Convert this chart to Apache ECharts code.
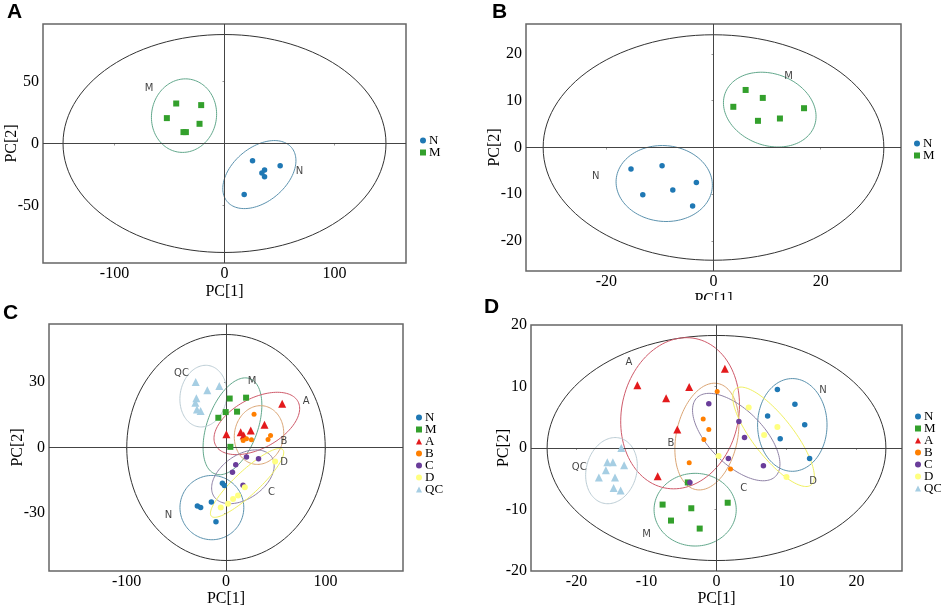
<!DOCTYPE html>
<html>
<head>
<meta charset="utf-8">
<script src="https://cdn.jsdelivr.net/npm/echarts@6/dist/echarts.min.js"></script>
<style>
html,body{margin:0;padding:0;background:#fff;}
#chart{width:941px;height:608px;}
</style>
</head>
<body>
<div id="chart"></div>
<script>
// ---- data ----
const groups = ['N', 'M', 'A', 'B', 'C', 'D', 'QC'];

// panel A
const aN = [[25.5,-14.0],[50.6,-17.9],[36.4,-21.5],[34.0,-23.9],[36.4,-26.9],[17.9,-41.1]];
const aM = [[-43.9,32.3],[-21.2,31.0],[-52.4,20.5],[-22.7,15.9],[-37.3,9.2],[-35.1,9.2]];
// panel B
const bN = [[-15.4,-4.6],[-9.6,-3.9],[-3.2,-7.5],[-13.2,-10.1],[-7.6,-9.1],[-3.9,-12.5]];
const bM = [[6.0,12.3],[9.2,10.6],[3.7,8.7],[16.9,8.4],[8.3,5.7],[12.4,6.2]];
// panel C
const cN = [[-3.6,-16.4],[-1.6,-17.4],[-14.7,-24.9],[-28.8,-26.8],[-25.5,-27.5],[-10.1,-34.0]];
const cM = [[3.7,22.4],[20.2,22.8],[-0.3,16.2],[11.1,16.4],[-7.7,13.6],[4.4,0.3]];
const cA = [[56.5,20.0],[38.7,10.4],[24.9,7.8],[14.8,7.0],[17.8,5.5],[0.4,6.1]];
const cB = [[28.2,15.2],[44.8,5.5],[42.3,3.7],[25.6,3.5],[20.6,4.0],[17.3,3.2]];
const cC = [[20.6,-4.3],[32.7,-5.1],[9.8,-7.9],[6.5,-11.3],[17.1,-17.3]];
const cD = [[49.4,-6.4],[18.9,-18.2],[12.1,-22.0],[7.1,-23.6],[2.0,-25.7],[-5.3,-27.5]];
const cQC = [[-30.5,30.0],[-18.8,26.2],[-6.7,28.1],[-29.8,22.5],[-30.8,20.5],[-29.2,17.4],[-25.5,16.7]];
// panel D
const dN = [[8.7,9.5],[11.2,7.1],[7.3,5.2],[12.6,3.8],[9.1,1.5],[13.3,-1.7]];
const dM = [[-4.1,-5.6],[-7.7,-9.2],[-3.6,-9.8],[1.6,-8.9],[-6.5,-11.8],[-2.4,-13.1]];
const dA = [[-11.3,10.2],[-7.2,8.1],[-3.9,9.9],[1.2,12.9],[-5.6,3.0],[-8.4,-4.6]];
const dB = [[0.1,9.2],[-1.9,4.7],[-1.1,3.0],[-1.8,1.4],[-3.9,-2.4],[2.0,-3.4]];
const dC = [[-1.1,7.2],[3.2,4.3],[4.0,1.7],[1.7,-1.7],[6.7,-2.9],[-3.8,-5.6]];
const dD = [[4.6,6.6],[8.7,3.4],[6.8,2.1],[0.3,-1.3],[10.0,-4.7]];
const dQC = [[-13.6,0.0],[-15.6,-2.3],[-14.8,-2.3],[-13.2,-2.8],[-15.8,-3.6],[-14.5,-4.8],[-16.8,-4.8],[-14.7,-6.5],[-13.7,-6.9]];

// ellipses: [cx, cy, rx, ry, rotation deg]
const hotA = [0,0,146.8,88,0];
const ellA = {N:[31.7,-25.1,38.2,21.8,40], M:[-36.8,22.5,29.5,29.8,-10]};
const hotB = [0,0,31.8,24.1,0];
const ellB = {N:[-9.2,-7.7,9.0,8.1,-5], M:[10.5,8.1,8.87,7.66,-20]};
const hotC = [0,0,99.8,51.7,0];
const ellC = {N:[-14.2,-27.5,32.1,14.7,0], M:[6.5,9.7,25.4,23.2,-20], A:[31.0,11.0,46.9,11.5,28],
  B:[33.2,5.7,24.7,13.5,-10], C:[17.0,-13.4,35.2,10.0,35], D:[21.2,-16.2,49.1,5.5,43], QC:[-22.7,23.5,23.4,14.2,-10]};
const hotD = [0,0,24.2,18.3,0];
const ellD = {N:[10.83,3.75,4.96,7.54,0], M:[-3.05,-10.03,5.87,5.91,0], A:[-5.2,5.65,8.36,12.4,-12],
  B:[-1.37,1.86,4.38,8.81,-12], C:[2.82,1.78,7.94,4.4,-45], D:[8.15,1.82,8.73,3.26,-52], QC:[-15.0,-3.68,3.6,5.46,-15]};

// cluster labels
const labA = [[-68.5,44.1,'M'],[68.2,-22.6,'N']];
const labB = [[14.0,15.1,'M'],[-22.0,-6.2,'N']];
const labC = [[-44.7,33.8,'QC'],[26.2,30.2,'M'],[80.6,21.0,'A'],[58.2,2.8,'B'],[58.5,-7.0,'D'],[45.8,-20.4,'C'],[-57.8,-31.2,'N']];
const labD = [[-12.5,13.9,'A'],[-6.5,0.8,'B'],[-19.6,-3.1,'QC'],[-10.0,-14.1,'M'],[3.9,-6.6,'C'],[13.8,-5.5,'D'],[15.2,9.3,'N']];

// tick values
const ticksAx = [-100,0,100], ticksAy = [-50,0,50];
const ticksBx = [-20,0,20], ticksBy = [-20,-10,0,10,20];
const ticksCx = [-100,0,100], ticksCy = [-30,0,30];
const ticksDx = [-20,-10,0,10,20], ticksDy = [-20,-10,0,10,20];

// ---- styling ----
const serif = '"Liberation Serif", "DejaVu Serif", serif';
const sans = '"DejaVu Sans", "Open Sans", sans-serif';
const pointColor = {N:'#1f78b4', M:'#33a02c', A:'#e31a1c', B:'#ff7f00', C:'#6a3d9a', D:'#ffff80', QC:'#a6cee3'};
const ellColor = {N:'#5b92ae', M:'#62a88c', A:'#cf5a6a', B:'#dba574', C:'#8f82a6', D:'#f0f060', QC:'#bccdd5'};
const symbol = {N:'circle', M:'rect', A:'triangle', B:'circle', C:'circle', D:'circle', QC:'triangle'};
const symSize = {N:5.5, M:6, A:8, B:5, C:5.5, D:6, QC:8};

var myChart = echarts.init(document.getElementById('chart'));

function renderEllipse(color) {
  return function (params, api) {
    var c = api.coord([api.value(0), api.value(1)]);
    var rx = api.size([api.value(2), 0])[0];
    var ry = api.size([0, api.value(3)])[1];
    var th = api.value(4) * Math.PI / 180;
    var pts = [];
    for (var i = 0; i <= 120; i++) {
      var t = i / 120 * 2 * Math.PI;
      var ux = rx * Math.cos(t), uy = ry * Math.sin(t);
      pts.push([c[0] + ux * Math.cos(th) - uy * Math.sin(th), c[1] - (ux * Math.sin(th) + uy * Math.cos(th))]);
    }
    return {type: 'polygon', shape: {points: pts}, style: {fill: 'transparent', stroke: color, lineWidth: 1}};
  };
}

function ellipseSeries(gi, e, color) {
  return {type: 'custom', xAxisIndex: gi, yAxisIndex: gi, data: [e], renderItem: renderEllipse(color), silent: true, z: 2};
}

function pointSeries(gi, g, data) {
  return {name: g, type: 'scatter', xAxisIndex: gi, yAxisIndex: gi, data: data,
    symbol: symbol[g], symbolSize: symSize[g], itemStyle: {color: pointColor[g], opacity: 1}, z: 5};
}

function labelSeries(gi, labs) {
  return {type: 'scatter', xAxisIndex: gi, yAxisIndex: gi, silent: true, symbolSize: 0, z: 4,
    data: labs.map(function (l) { return {value: [l[0], l[1]], name: l[2]}; }),
    label: {show: true, position: 'inside', formatter: '{b}', fontFamily: sans, fontSize: 10, color: '#111'},
    markLine: {silent: true, symbol: 'none', label: {show: false}, animation: false,
      lineStyle: {color: '#444', width: 1, type: 'solid'}, data: [{xAxis: 0}, {yAxis: 0}]}};
}

function xAx(gi, min, max, ticks, gap) {
  return {gridIndex: gi, type: 'value', min: min, max: max, name: 'PC[1]', nameLocation: 'middle', nameGap: gap,
    nameMoveOverlap: false,
    nameTextStyle: {fontFamily: serif, fontSize: 16, color: '#000'},
    axisLine: {show: false}, splitLine: {show: false},
    axisTick: {show: true, length: 2, lineStyle: {color: '#999'}, customValues: ticks},
    axisLabel: {customValues: ticks, fontFamily: serif, fontSize: 16, color: '#000', margin: 3}};
}
function yAx(gi, min, max, ticks, gap) {
  return {gridIndex: gi, type: 'value', min: min, max: max, name: 'PC[2]', nameLocation: 'middle', nameGap: gap,
    nameMoveOverlap: false,
    nameTextStyle: {fontFamily: serif, fontSize: 16, color: '#000'},
    axisLine: {show: false}, splitLine: {show: false},
    axisTick: {show: true, length: 2, lineStyle: {color: '#999'}, customValues: ticks},
    axisLabel: {customValues: ticks, fontFamily: serif, fontSize: 16, color: '#000', margin: 4}};
}

function legendAt(left, top, names) {
  return {left: left, top: top, orient: 'vertical', selectedMode: false, itemWidth: 6, itemHeight: 6, itemGap: -1,
    textStyle: {fontFamily: serif, fontSize: 13, lineHeight: 11, color: '#000', padding: [0, 0, 0, -2]},
    data: names.map(function (n) { return {name: n, icon: symbol[n]}; })};
}

var series = [];
// A
series.push(ellipseSeries(0, hotA, '#333'));
series.push(ellipseSeries(0, ellA.N, ellColor.N));
series.push(ellipseSeries(0, ellA.M, ellColor.M));
series.push(labelSeries(0, labA));
series.push(pointSeries(0, 'N', aN));
series.push(pointSeries(0, 'M', aM));
// B
series.push(ellipseSeries(1, hotB, '#333'));
series.push(ellipseSeries(1, ellB.N, ellColor.N));
series.push(ellipseSeries(1, ellB.M, ellColor.M));
series.push(labelSeries(1, labB));
series.push(pointSeries(1, 'N', bN));
series.push(pointSeries(1, 'M', bM));
// C
series.push(ellipseSeries(2, hotC, '#333'));
groups.forEach(function (g) { series.push(ellipseSeries(2, ellC[g], ellColor[g])); });
series.push(labelSeries(2, labC));
var cData = {N: cN, M: cM, A: cA, B: cB, C: cC, D: cD, QC: cQC};
groups.forEach(function (g) { series.push(pointSeries(2, g, cData[g])); });
// D
series.push(ellipseSeries(3, hotD, '#333'));
groups.forEach(function (g) { series.push(ellipseSeries(3, ellD[g], ellColor[g])); });
series.push(labelSeries(3, labD));
var dData = {N: dN, M: dM, A: dA, B: dB, C: dC, D: dD, QC: dQC};
groups.forEach(function (g) { series.push(pointSeries(3, g, dData[g])); });

var panelText = {fontFamily: '"Liberation Sans", Arial, sans-serif', fontSize: 21, fontWeight: 'bold', fill: '#000'};

var option = {
  animation: false,
  backgroundColor: '#fff',
  grid: [
    {left: 43, top: 24, width: 363, height: 239, show: true, borderColor: '#666', borderWidth: 1.5, backgroundColor: 'transparent'},
    {left: 526, top: 24, width: 375, height: 247, show: true, borderColor: '#666', borderWidth: 1.5, backgroundColor: 'transparent'},
    {left: 49, top: 324, width: 354, height: 247, show: true, borderColor: '#666', borderWidth: 1.5, backgroundColor: 'transparent'},
    {left: 531, top: 325, width: 371, height: 246, show: true, borderColor: '#666', borderWidth: 1.5, backgroundColor: 'transparent'}
  ],
  xAxis: [
    xAx(0, -165, 165, ticksAx, 21),
    xAx(1, -35, 35, ticksBx, 21),
    xAx(2, -178, 178, ticksCx, 20),
    xAx(3, -26.5, 26.5, ticksDx, 20)
  ],
  yAxis: [
    yAx(0, -96.5, 96.5, ticksAy, 23),
    yAx(1, -26.4, 26.4, ticksBy, 23),
    yAx(2, -56.5, 56.5, ticksCy, 23),
    yAx(3, -20, 20, ticksDy, 19)
  ],
  legend: [
    legendAt(415, 129, ['N', 'M']),
    legendAt(909, 132, ['N', 'M']),
    legendAt(411, 406, groups),
    legendAt(910, 405, groups)
  ],
  graphic: [
    {type: 'rect', z: 100, shape: {x: 640, y: 300, width: 150, height: 20}, style: {fill: '#fff'}},
    {type: 'text', z: 101, left: 7, top: 2, style: Object.assign({text: 'A'}, panelText)},
    {type: 'text', z: 101, left: 492, top: 2, style: Object.assign({text: 'B'}, panelText)},
    {type: 'text', z: 101, left: 3, top: 303, style: Object.assign({text: 'C'}, panelText)},
    {type: 'text', z: 101, left: 484, top: 297, style: Object.assign({text: 'D'}, panelText)}
  ],
  series: series
};
myChart.setOption(option);
</script>
</body>
</html>
